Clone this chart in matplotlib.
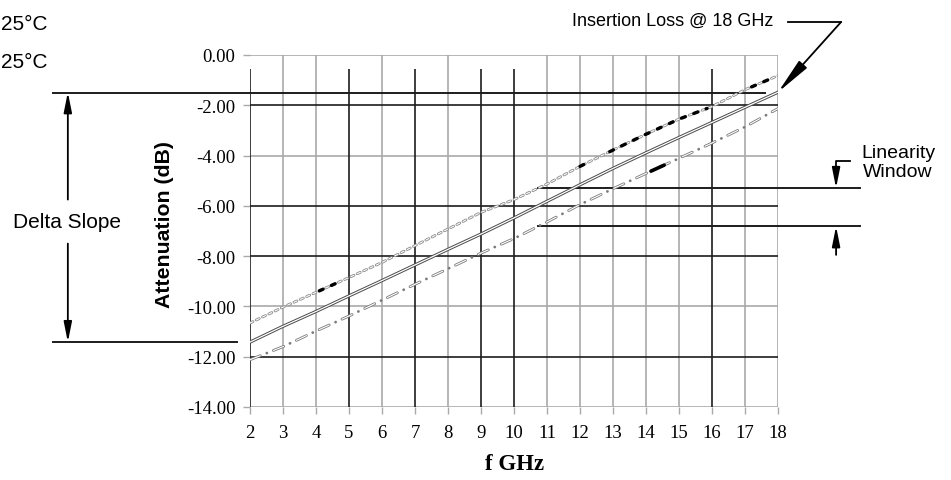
import numpy as np
import matplotlib
matplotlib.use("Agg")
import matplotlib.pyplot as plt
from matplotlib.ticker import FormatStrFormatter

plt.rcParams["axes.unicode_minus"] = False
plt.rcParams["lines.scale_dashes"] = False

# frequency points (GHz) and attenuation readings (dB)
freq = [2, 3, 4, 5, 6, 7, 8, 9, 10, 11, 12, 13, 14, 15, 16, 17, 18]
atten_upper = [-10.66, -10.03, -9.44, -8.85, -8.25, -7.58, -6.92, -6.26, -5.75,
               -5.13, -4.43, -3.78, -3.15, -2.55, -2.05, -1.38, -0.82]
atten_mid = [-11.42, -10.79, -10.20, -9.58, -8.97, -8.35, -7.73, -7.12, -6.48,
             -5.82, -5.16, -4.51, -3.89, -3.28, -2.68, -2.08, -1.48]
atten_lower = [-12.12, -11.60, -10.98, -10.38, -9.75, -9.12, -8.50, -7.88, -7.30,
               -6.64, -5.95, -5.32, -4.71, -4.11, -3.50, -2.86, -2.13]

# stretches where the traces are drawn in heavy black dashes
upper_black = [(4.1, 4.65), (12.0, 12.35), (12.9, 15.85), (17.2, 17.7)]
lower_black = [(14.15, 14.55)]

dark_x = [2, 5, 7, 9, 10, 16]
dark_y = [-2, -6, -8, -12]
yticks = [0, -2, -4, -6, -8, -10, -12, -14]
window_freq = 10.74
temps = ["25°C", "25°C"]

GRAY = "#a9a9a9"
DARK = "#1c1c1c"
serif = "Liberation Serif"
sans = "Liberation Sans"

fig = plt.figure(figsize=(9.51, 4.81), dpi=100)
ax = fig.add_axes([250 / 951, 1 - 408 / 481, 528 / 951, 352 / 481])
ax.set_xlim(2, 18)
ax.set_ylim(-14, 0)
for s in ax.spines.values():
    s.set_visible(False)

# grid
light_x = [x for x in freq if x not in dark_x]
ax.vlines(light_x, -14, 0, color=GRAY, lw=1.2, zorder=1)
ax.vlines(dark_x, -14, -0.56, color=DARK, lw=1.2, zorder=2)
light_y = [y for y in yticks if y not in dark_y]
ax.hlines(light_y, 2, 18, color=GRAY, lw=1.2, zorder=1)
ax.hlines(dark_y, 2, 18, color=DARK, lw=1.2, zorder=2)

ax.set_xticks(freq)
ax.set_yticks(yticks)
ax.yaxis.set_major_formatter(FormatStrFormatter("%.2f"))
ax.tick_params(axis="both", direction="out", color=GRAY, width=1.0, length=5)
ax.tick_params(axis="x", pad=7, labelsize=13.5)
ax.tick_params(axis="y", pad=5.5, labelsize=13.5)
for lab in ax.get_xticklabels() + ax.get_yticklabels():
    lab.set_fontfamily(serif)


def hollow(x, y, color, outer, inner, lw=1.6, ilw=0.6):
    ax.plot(x, y, color=color, lw=lw, dashes=outer, solid_capstyle="round",
            dash_capstyle="round", zorder=4)
    ax.plot(x, y, color="white", lw=ilw, dashes=inner, solid_capstyle="round",
            dash_capstyle="round", zorder=5)


xf = np.array(freq, dtype=float)

# upper trace: small hollow ovals
hollow(freq, atten_upper, "#8a8a8a", (2.4, 2.6), (2.4, 2.6), lw=2.0, ilw=0.8)
# middle trace: double line
ax.plot(freq, atten_mid, color="#4a4a4a", lw=2.3, zorder=4)
ax.plot(freq, atten_mid, color="white", lw=0.9, zorder=5)
# lower trace: hollow dash + dot
hollow(freq, atten_lower, "#7a7a7a", (8.0, 5.0, 0.1, 5.0), (8.0, 10.1), lw=2.0, ilw=0.8)

for a, b in upper_black:
    xs = np.linspace(a, b, 20)
    ax.plot(xs, np.interp(xs, xf, atten_upper), color="black", lw=2.4,
            dashes=(3.0, 6.5), dash_capstyle="round", zorder=6)
for a, b in lower_black:
    xs = np.linspace(a, b, 20)
    ax.plot(xs, np.interp(xs, xf, atten_lower), color="black", lw=2.6,
            solid_capstyle="round", zorder=6)

# Delta slope markers (from the middle trace end points)
d_top = atten_mid[-1]
d_bot = atten_mid[0]
ax.plot([-3.97, 17.6], [d_top - 0.03, d_top - 0.03], color=DARK, lw=1.4,
        clip_on=False, zorder=3)
ax.plot([-3.97, 1.6], [d_bot, d_bot], color=DARK, lw=1.4, clip_on=False, zorder=3)
arr = dict(arrowstyle="-|>,head_length=0.6,head_width=0.12", color="black",
           lw=1.3, mutation_scale=20, shrinkA=0, shrinkB=0)
ax.annotate("", xy=(-3.52, d_top), xytext=(-3.52, -5.75), arrowprops=arr,
            annotation_clip=False)
ax.annotate("", xy=(-3.52, d_bot), xytext=(-3.52, -7.5), arrowprops=arr,
            annotation_clip=False)
ax.text(-3.55, -6.64, "Delta Slope", fontsize=15, family=sans, ha="center",
        va="center", clip_on=False)

# Linearity window (upper and lower trace at the window frequency)
w_top = float(np.interp(window_freq, xf, atten_upper))
w_bot = float(np.interp(window_freq, xf, atten_lower))
ax.plot([window_freq, 20.48], [w_top, w_top], color=DARK, lw=1.4, clip_on=False, zorder=3)
ax.plot([window_freq, 20.48], [w_bot, w_bot], color=DARK, lw=1.4, clip_on=False, zorder=3)
ax.plot([20.18, 19.76, 19.76], [-4.21, -4.21, -4.6], color="black", lw=1.3,
        clip_on=False)
ax.annotate("", xy=(19.76, w_top), xytext=(19.76, -4.6), arrowprops=arr,
            annotation_clip=False)
ax.annotate("", xy=(19.76, w_bot), xytext=(19.76, -7.95), arrowprops=arr,
            annotation_clip=False)
ax.text(21.64, -4.25, "Linearity\nWindow", fontsize=14, family=sans,
        ha="center", va="center", linespacing=1.12, clip_on=False)

# Insertion loss leader
ax.plot([18.3, 19.91], [1.31, 1.31], color="black", lw=1.3, clip_on=False)
ax.annotate("", xy=(18.0, d_top), xytext=(19.91, 1.31),
            arrowprops=dict(arrowstyle="-|>,head_length=1.1,head_width=0.16",
                            color="black", lw=1.3, mutation_scale=20,
                            shrinkA=0, shrinkB=0),
            annotation_clip=False)
ax.text(14.82, 1.39, "Insertion Loss @ 18 GHz", fontsize=13, family=sans,
        ha="center", va="center", clip_on=False)

# axis labels
ax.set_ylabel("Attenuation (dB)", fontsize=15.3, family=sans, fontweight="bold")
ax.yaxis.set_label_coords(-0.143, 0.52)
ax.set_xlabel("f GHz", fontsize=16.5, family=serif, fontweight="bold")
ax.xaxis.set_label_coords(0.502, -0.13)

# temperature legend at top left
for i, t in enumerate(temps):
    fig.text(1 / 951, 1 - (25 + 37 * i) / 481, t, fontsize=15, family=sans,
             ha="left", va="center")

fig.savefig("out.png", dpi=100)
